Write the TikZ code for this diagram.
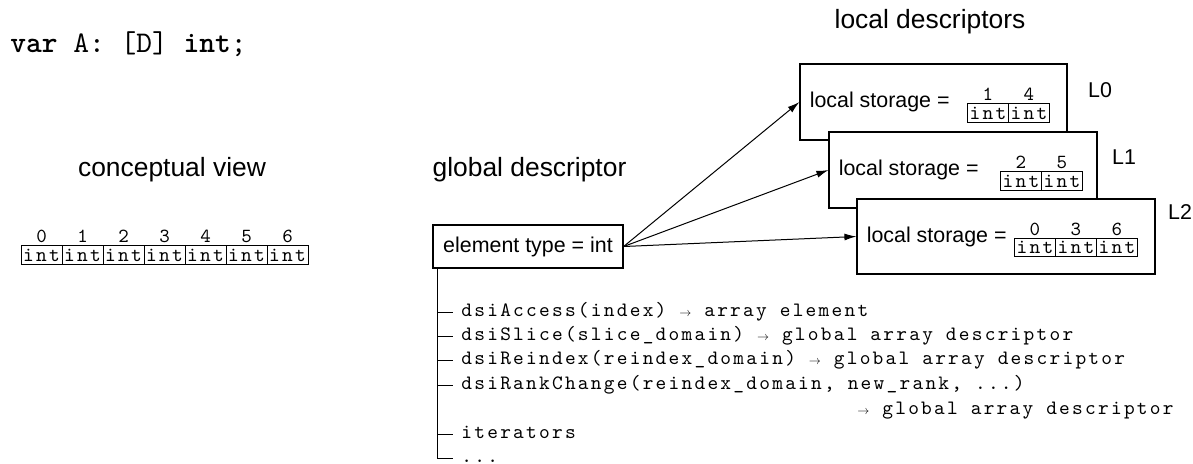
\documentclass[tikz,border=0pt]{standalone}
\usepackage{fontspec}
\setmainfont{Liberation Sans}
\newfontfamily\declfont{lmmono10-regular}[Extension=.otf, BoldFont=lmmonolt10-bold]
\newfontfamily\codefont{lmmono10-regular}[Extension=.otf, LetterSpace=11]
\usepackage{tikz}
\usetikzlibrary{positioning,arrows.meta}
\newcommand{\toarrow}{\makebox[6pt]{\scalebox{0.6}{$\rightarrow$}}}

\begin{document}
\begin{tikzpicture}[x=0.5pt, y=-0.5pt,
  font=\fontsize{10.7}{13}\selectfont,
  title/.style={font=\fontsize{13.2}{16}\selectfont, anchor=base, inner sep=0pt},
  box/.style={draw, fill=white, line width=0.6pt, inner sep=0pt},
  cell/.style={draw, font=\fontsize{10.2}{12}\codefont, minimum width=20.5pt, minimum height=9.3pt, inner sep=0pt, outer sep=0pt, line width=0.5pt},
  idx/.style={font=\fontsize{10}{12}\codefont, inner sep=0pt, label distance=1.2pt},
  code/.style={font=\fontsize{10.2}{12}\codefont, anchor=west, inner xsep=4pt, text height=6.8pt, text depth=2.4pt},
  lname/.style={inner sep=0pt},
  arr/.style={-{Latex[length=6pt, width=3.5pt]}, line width=0.5pt},
  node distance=0pt]
\useasboundingbox (0,0) rectangle (1193,463);

\node[anchor=base west, inner sep=0pt, font=\fontsize{15}{18}\declfont] (decl) at (10,52)
  {\textbf{var} A: [D] \textbf{int};};

% conceptual view
\node[title] (cvtitle) at (172,176) {conceptual view};
\node[cell, label={[idx]above:0}] (cv0) at (41.5,255) {int};
\foreach \i [count=\j from 0] in {1,...,6}
  \node[cell, right=of cv\j, label={[idx]above:\i}] (cv\i) {int};

% global descriptor
\node[title] (gtitle) at (529.5,176) {global descriptor};
\node[box, minimum width=95pt, minimum height=21.5pt] (glob) at (528,246.5) {element type = int};

% local descriptors, one per locale
\node[title] (ltitle) at (930,28) {local descriptors};
\node[box, minimum width=133.5pt, minimum height=38pt] (l0) at (933.5,102) {};
\node[anchor=west, inner sep=0pt] (l0txt) at ([xshift=5pt]l0.west) {local storage =};
\foreach \n [count=\k from 0] in {1,4}
  \node[cell, anchor=west, label={[idx]above:\n}] (l0c\k) at ([xshift=84pt+20.5pt*\k, yshift=-5.5pt]l0.west) {int};
\node[lname] (l0name) at (1100,90) {L0};

\node[box, minimum width=134pt, minimum height=38pt] (l1) at (963,170) {};
\node[anchor=west, inner sep=0pt] (l1txt) at ([xshift=5pt]l1.west) {local storage =};
\foreach \n [count=\k from 0] in {2,5}
  \node[cell, anchor=west, label={[idx]above:\n}] (l1c\k) at ([xshift=86pt+20.5pt*\k, yshift=-5.5pt]l1.west) {int};
\node[lname] (l1name) at (1124,157) {L1};

\node[box, minimum width=149pt, minimum height=37.5pt] (l2) at (1006,236.5) {};
\node[anchor=west, inner sep=0pt] (l2txt) at ([xshift=5pt]l2.west) {local storage =};
\foreach \n [count=\k from 0] in {0,3,6}
  \node[cell, anchor=west, label={[idx]above:\n}] (l2c\k) at ([xshift=79pt+20.5pt*\k, yshift=-5.5pt]l2.west) {int};
\node[lname] (l2name) at (1180,212) {L2};

\draw[arr] (glob.east) -- (l0.west);
\draw[arr] (glob.east) -- (l1.west);
\draw[arr] (glob.east) -- (l2.west);

% interface of the global descriptor
\coordinate (trunk) at ([xshift=2.5pt]glob.south west);
\node[code] (acc) at (453,312) {dsiAccess(index) \toarrow{} array element};
\node[code] (slc) at (453,336) {dsiSlice(slice\_domain) \toarrow{} global array descriptor};
\node[code] (rdx) at (453,360) {dsiReindex(reindex\_domain) \toarrow{} global array descriptor};
\node[code] (rnk) at (453,385) {dsiRankChange(reindex\_domain, new\_rank, ...)};
\node[code] (rnkret) at (849,410) {\toarrow{} global array descriptor};
\node[code] (itr) at (453,434) {iterators};
\node[code] (more) at (453,458) {...};
\draw[line width=0.5pt] (trunk) |- (more.west);
\foreach \n in {acc,slc,rdx,rnk,itr}
  \draw[line width=0.5pt] (trunk |- \n.west) -- (\n.west);
\end{tikzpicture}
\end{document}
